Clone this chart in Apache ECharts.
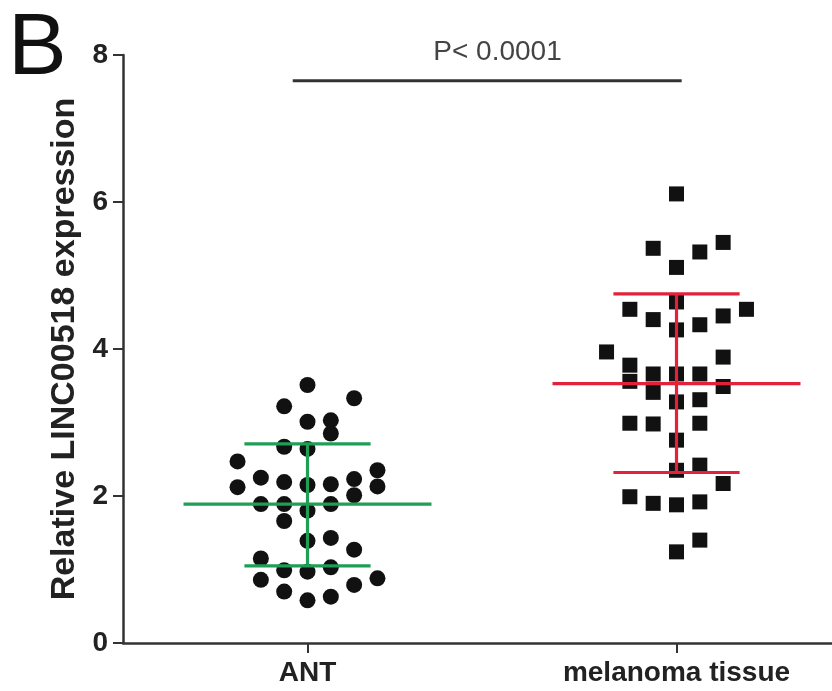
<!DOCTYPE html>
<html>
<head>
<meta charset="utf-8">
<script src="https://cdn.jsdelivr.net/npm/echarts@6/dist/echarts.min.js"></script>
<style>
html,body{margin:0;padding:0;background:#fff;}
#chart{width:832px;height:691px;}
</style>
</head>
<body>
<div id="chart"></div>
<script>
// ---- data ----
const categories = ['ANT', 'melanoma tissue'];
const yTicks = [0, 2, 4, 6, 8];

// ANT: values and swarm column (-3..3)
const antValues = [3.51, 3.33, 3.22, 3.01, 3.03, 2.85, 2.67, 2.64, 2.47, 2.25, 2.19, 2.15, 2.16, 2.23, 2.35, 2.13, 2.01, 2.12,
                   1.89, 1.89, 1.80, 1.89, 1.66, 1.39, 1.43, 1.27, 1.15, 0.86, 0.99, 0.97, 1.03, 0.88, 0.79, 0.70, 0.58, 0.63];
const antColumns = [0, 2, -1, 0, 1, 1, -1, 0, -3, -2, -1, 0, 1, 2, 3, 3, 2, -3,
                    -2, -1, 0, 1, -1, 0, 1, 2, -2, -2, -1, 0, 1, 3, 2, -1, 0, 1];

// melanoma tissue: values and swarm column
const melValues = [6.11, 5.37, 5.32, 5.45, 5.11, 4.64, 4.54, 4.40, 4.26, 4.33, 4.45, 4.54,
                   3.96, 3.89, 3.78, 3.56, 3.66, 3.66, 3.66, 3.49, 3.41, 3.28, 3.31,
                   2.99, 2.98, 2.99, 2.76, 2.42, 2.35, 2.17, 1.99, 1.90, 1.88, 1.92, 1.40, 1.24];
const melColumns = [0, -1, 1, 2, 0, 0, -2, -1, 0, 1, 2, 3,
                    -3, 2, -2, -2, -1, 0, 1, 2, -1, 0, 1,
                    -2, -1, 1, 0, 1, 0, 2, -2, -1, 0, 1, 1, 0];

// mean and SD bounds
const groupMeans = [1.89, 3.53];
const groupSdLow = [1.05, 2.32];
const groupSdHigh = [2.71, 4.75];
const groupColors = ['#1f9e55', '#e3213b'];

// significance annotation
const sigFrom = -0.04, sigTo = 1.014, sigY = 7.65;
const sigTextX = 0.515, sigTextY = 8.04;
const sigText = 'P< 0.0001';

// ---- build ----
const colStep = 0.0632;
const antData = antValues.map((v, i) => [0 + antColumns[i] * colStep, v]);
const melData = melValues.map((v, i) => [1 + melColumns[i] * colStep, v]);
const errData = groupMeans.map((m, i) => [i, m, groupSdLow[i], groupSdHigh[i]]);

const FONT = "'Liberation Sans', Arial, sans-serif";
const chart = echarts.init(document.getElementById('chart'), null, {renderer: 'canvas'});

chart.setOption({
  backgroundColor: '#ffffff',
  animation: false,
  title: {
    text: 'B', left: 3, top: 1,
    textStyle: {fontFamily: FONT, fontSize: 88, fontWeight: 'normal', color: '#111'}
  },
  grid: {left: 123, top: 55, right: 0, height: 588},
  xAxis: {
    type: 'value', min: -0.5, max: 1.4214,
    splitLine: {show: false},
    axisLine: {show: true, onZero: false, lineStyle: {color: '#333', width: 2.5}},
    axisTick: {show: true, customValues: [0, 1], length: 10, lineStyle: {color: '#333', width: 2}},
    axisLabel: {
      customValues: [0, 1], margin: 16,
      formatter: v => categories[Math.round(v)],
      fontFamily: FONT, fontSize: 28, fontWeight: 'bold', color: '#222'
    }
  },
  yAxis: {
    type: 'value', min: 0, max: 8, interval: 2,
    name: 'Relative LINC00518 expression', nameLocation: 'middle', nameGap: 40,
    nameTextStyle: {fontFamily: FONT, fontSize: 34, fontWeight: 'bold', color: '#222'},
    splitLine: {show: false},
    axisLine: {show: true, onZero: false, lineStyle: {color: '#333', width: 2.5}},
    axisTick: {show: true, length: 10, lineStyle: {color: '#333', width: 2}},
    axisLabel: {
      margin: 15, fontFamily: FONT, fontSize: 28, fontWeight: 'bold', color: '#222',
      formatter: v => yTicks.includes(v) ? String(v) : ''
    }
  },
  series: [
    {
      type: 'scatter', data: antData, symbol: 'circle', symbolSize: 16,
      itemStyle: {color: '#111', opacity: 1}, z: 2
    },
    {
      type: 'scatter', data: melData, symbol: 'rect', symbolSize: 15,
      itemStyle: {color: '#111', opacity: 1}, z: 2
    },
    {
      type: 'custom', data: errData, z: 3, clip: false,
      renderItem: function (params, api) {
        const c = api.value(0), m = api.value(1), lo = api.value(2), hi = api.value(3);
        const col = groupColors[params.dataIndex];
        const st = {stroke: col, lineWidth: 3.2};
        const seg = (x1, y1, x2, y2) => {
          const a = api.coord([x1, y1]), b = api.coord([x2, y2]);
          return {type: 'line', shape: {x1: a[0], y1: a[1], x2: b[0], y2: b[1]}, style: st};
        };
        const mw = 0.336, sw = 0.171;
        return {type: 'group', children: [
          seg(c, lo, c, hi),
          seg(c - mw, m, c + mw, m),
          seg(c - sw, hi, c + sw, hi),
          seg(c - sw, lo, c + sw, lo)
        ]};
      }
    },
    {
      type: 'custom', data: [[sigFrom, sigTo, sigY, sigTextX, sigTextY]], z: 3, clip: false,
      renderItem: function (params, api) {
        const a = api.coord([api.value(0), api.value(2)]);
        const b = api.coord([api.value(1), api.value(2)]);
        const t = api.coord([api.value(3), api.value(4)]);
        return {type: 'group', children: [
          {type: 'line', shape: {x1: a[0], y1: a[1], x2: b[0], y2: b[1]}, style: {stroke: '#333', lineWidth: 3}},
          {type: 'text', x: t[0], y: t[1], style: {text: sigText, fill: '#444', font: 'normal 28px ' + FONT, align: 'center', verticalAlign: 'middle'}}
        ]};
      }
    }
  ]
});
</script>
</body>
</html>
